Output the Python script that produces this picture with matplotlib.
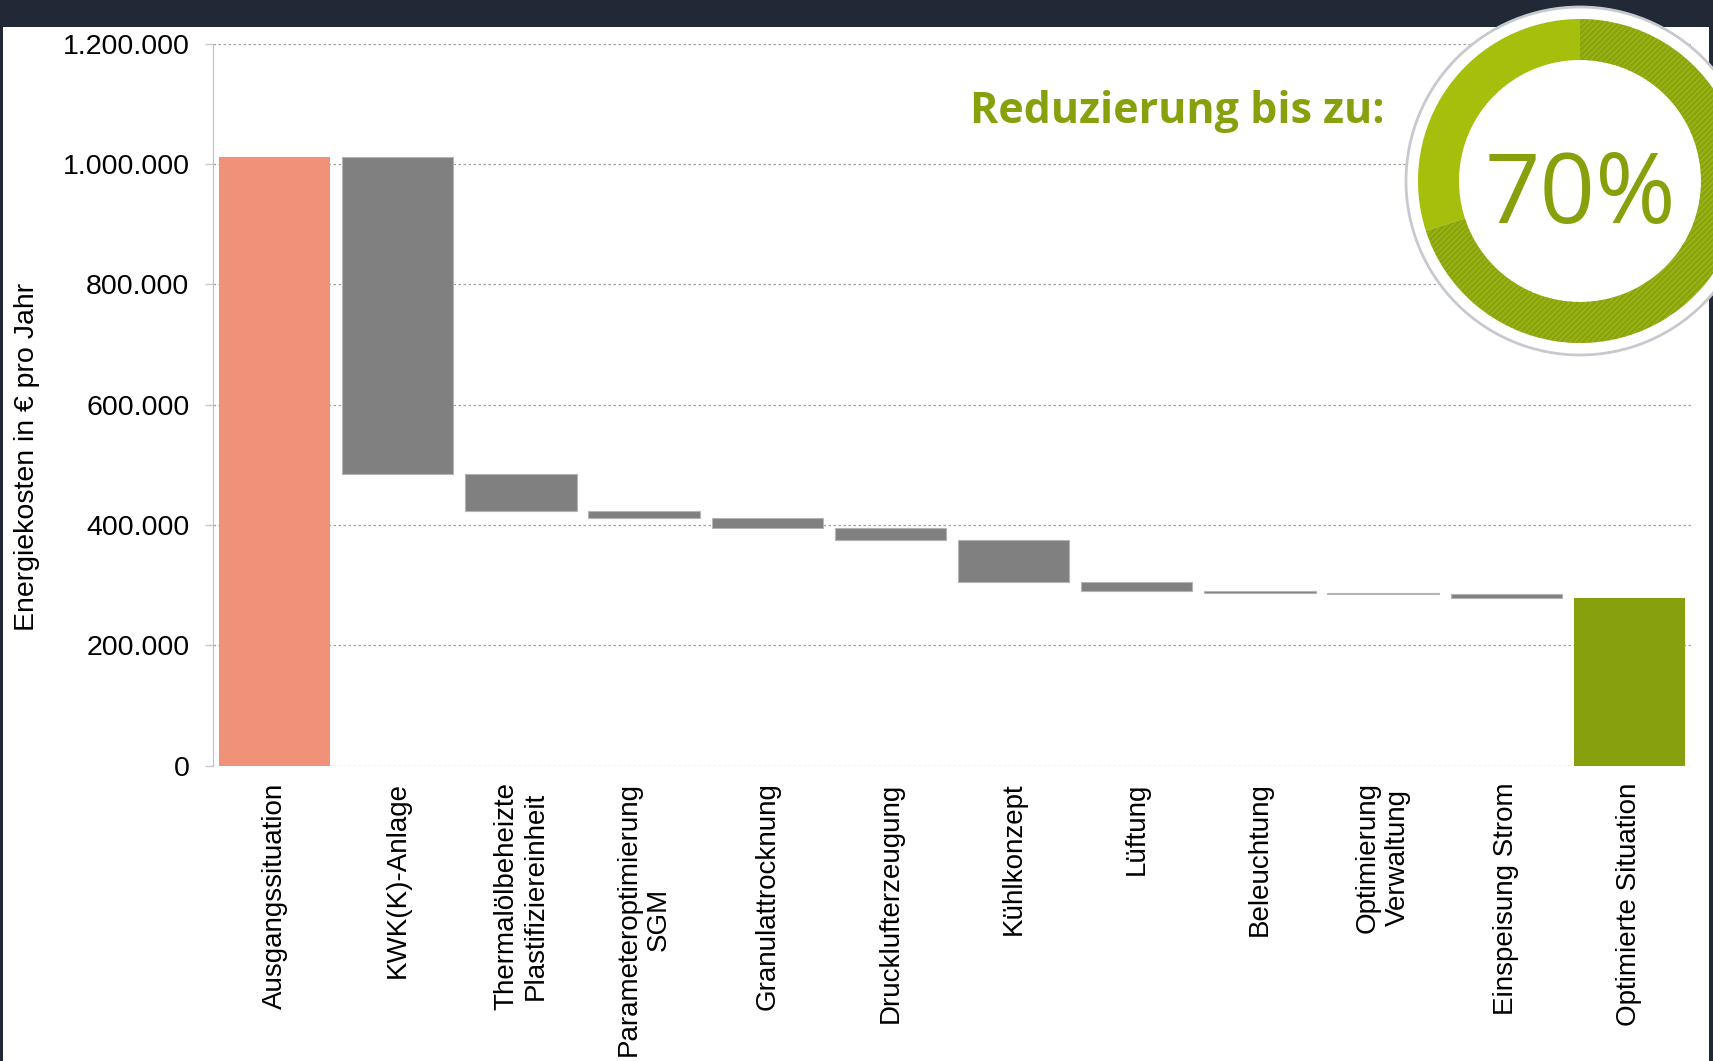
import numpy as np
import matplotlib
matplotlib.use('Agg')
import matplotlib.pyplot as plt
from matplotlib.patches import Circle, Wedge, Rectangle

# Data
categories = ['Ausgangssituation', 'KWK(K)-Anlage', 'Thermalölbeheizte\nPlastifiziereinheit',
              'Parameteroptimierung\nSGM', 'Granulattrocknung', 'Drucklufterzeugung',
              'Kühlkonzept', 'Lüftung', 'Beleuchtung', 'Optimierung\nVerwaltung',
              'Einspeisung Strom', 'Optimierte Situation']
start_value = 1012000
savings = [528000, 61000, 12000, 16000, 19500, 69500, 16000, 3500, 2000, 6000]
y_ticks = [0, 200000, 400000, 600000, 800000, 1000000, 1200000]
y_tick_labels = ['0', '200.000', '400.000', '600.000', '800.000', '1.000.000', '1.200.000']
reduction_pct = 70

W, H = 1713, 1061
plt.rcParams['font.family'] = ['Liberation Sans', 'DejaVu Sans']
plt.rcParams['hatch.linewidth'] = 1.1

fig = plt.figure(figsize=(W / 100, H / 100), dpi=100)
fig.patch.set_facecolor('white')
ax = fig.add_axes([213 / W, 1 - 765.7 / H, (1691 - 213) / W, (765.7 - 43.5) / H])

# Waterfall geometry
levels = start_value - np.concatenate([[0], np.cumsum(savings)])
final_value = levels[-1]
x = np.arange(len(categories))
bar_w = 0.905

ax.bar(x[0], start_value, width=bar_w, color='#F0917A', zorder=3)
for i, s in enumerate(savings):
    ax.bar(x[i + 1], s, bottom=levels[i + 1], width=bar_w, color='#808080',
           edgecolor='#b4b4b4', linewidth=0.8, zorder=3)
ax.bar(x[-1], final_value, width=bar_w, color='#87A10E', zorder=3)

ax.set_xlim(-0.5, len(categories) - 0.5)
ax.set_ylim(0, 1200000)
ax.set_yticks(y_ticks)
ax.set_yticklabels(y_tick_labels, fontsize=20.5)
ax.set_xticks(x)
ax.set_xticklabels(categories, rotation=90, fontsize=20, ha='center', va='top',
                   multialignment='center')
ax.tick_params(axis='x', length=0, pad=12)
ax.tick_params(axis='y', length=6, width=1, color='#c8c8c8', pad=11)

ax.grid(axis='y', color='#a0a0a0', linestyle=(0, (2, 2)), linewidth=0.9, zorder=0)
for side in ['top', 'right', 'bottom']:
    ax.spines[side].set_visible(False)
ax.spines['left'].set_color('#c0c0c0')

ax.set_ylabel('Energiekosten in € pro Jahr', fontsize=20.5)
ax.yaxis.set_label_coords(-0.117, 0.427)

# Overlay in pixel coordinates: frame and badge
ov = fig.add_axes([0, 0, 1, 1], zorder=10)
ov.set_xlim(0, W)
ov.set_ylim(0, H)
ov.axis('off')
ov.patch.set_alpha(0)

ov.add_patch(Rectangle((0, H - 27), W, 27, color='#222936', lw=0))
ov.add_patch(Rectangle((0, 0), 3, H, color='#222936', lw=0))
ov.add_patch(Rectangle((W - 4, 0), 4, H, color='#222936', lw=0))

cx, cy = 1580, H - 181
ov.add_patch(Circle((cx, cy), 174, facecolor='white', edgecolor='#c6cacf', linewidth=2))
solid_deg = (100 - reduction_pct) / 100 * 360
ov.add_patch(Wedge((cx, cy), 162, 90, 90 + solid_deg, width=41,
                   facecolor='#A6BF0D', edgecolor='none'))
ov.add_patch(Wedge((cx, cy), 162, 90 + solid_deg, 450, width=41,
                   facecolor='#89A30B', edgecolor='#9AB419', linewidth=0, hatch='//////'))
ov.text(cx, H - 223.3, f'{reduction_pct}%', ha='center', va='baseline',
        fontsize=70, color='#87A10C', family='Open Sans')

fig.text(1385 / W, 1 - 122.7 / H, 'Reduzierung bis zu:', ha='right', va='baseline',
         fontsize=31, fontweight='bold', color='#87A10C', family='Open Sans')

fig.savefig('out.png', dpi=100)
